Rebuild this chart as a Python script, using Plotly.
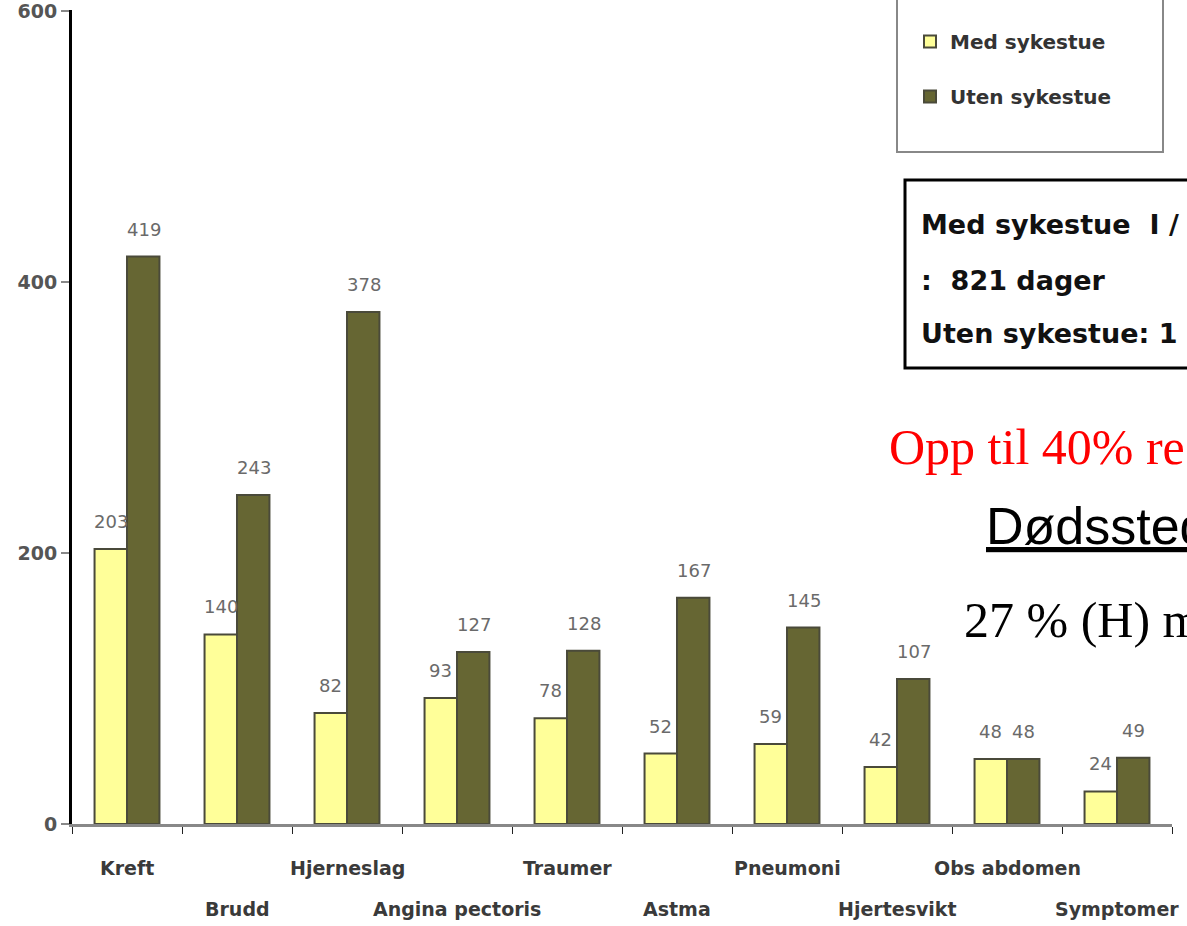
import plotly.graph_objects as go

# ---------------- data ----------------
categories = ["Kreft", "Brudd", "Hjerneslag", "Angina pectoris", "Traumer",
              "Astma", "Pneumoni", "Hjertesvikt", "Obs abdomen", "Symptomer"]
med_sykestue = [203, 140, 82, 93, 78, 52, 59, 42, 48, 24]
uten_sykestue = [419, 243, 378, 127, 128, 167, 145, 107, 48, 49]
series_names = ["Med sykestue", "Uten sykestue"]
y_ticks = [0, 200, 400, 600]
box_lines = ["Med sykestue  I /", ":  821 dager", "Uten sykestue: 1"]
red_text = "Opp til 40% re"
place_title = "Dødssted"
place_text = "27 % (H) m"

# ---------------- styles ----------------
colors = ["#FFFF99", "#666633"]
W, H = 1187, 926
ML, MR, MT, MB = 72, 15, 10, 102
PW, PH = W - ML - MR, H - MT - MB


def px_x(x):
    return (x - ML) / PW


def px_y(y):
    return (H - MB - y) / PH


fig = go.Figure()
for name, vals, col in zip(series_names, [med_sykestue, uten_sykestue], colors):
    fig.add_trace(go.Bar(
        x=categories, y=vals, name=name, legendgroup=name,
        marker=dict(color=col, line=dict(color="#4a4a3a", width=2)),
    ))

annotations = []
# value labels
for vals, shift in [(med_sykestue, -16.5), (uten_sykestue, 16.5)]:
    for c, v in zip(categories, vals):
        annotations.append(dict(
            x=c, y=v, xref="x", yref="y", text=str(v), showarrow=False,
            xshift=shift, yshift=15, yanchor="bottom",
            font=dict(family="DejaVu Sans", size=18, color="#6a6a6a")))

# staggered category labels
for i, c in enumerate(categories):
    annotations.append(dict(
        x=c, y=0, xref="x", yref="paper", text="<b>" + c + "</b>", showarrow=False,
        yanchor="middle", yshift=-44 if i % 2 == 0 else -85,
        font=dict(family="DejaVu Sans", size=19, color="#3a3a3a"),
        ))

# text box lines
for line, ypix in zip(box_lines, [224, 281, 333]):
    annotations.append(dict(
        x=px_x(919), y=px_y(ypix), xref="paper", yref="paper",
        text="<b>" + line + "</b>",
        showarrow=False, xanchor="left", yanchor="middle",
        font=dict(family="DejaVu Sans", size=27, color="#111111")))

annotations.append(dict(
    x=px_x(887), y=px_y(447), xref="paper", yref="paper", text=red_text,
    showarrow=False, xanchor="left", yanchor="middle",
    font=dict(family="Liberation Serif", size=50, color="#FF0000")))
annotations.append(dict(
    x=px_x(984), y=px_y(526), xref="paper", yref="paper",
    text="<u>" + place_title + "</u>",
    showarrow=False, xanchor="left", yanchor="middle",
    font=dict(family="Liberation Sans", size=52, color="#000000")))
annotations.append(dict(
    x=px_x(962), y=px_y(620), xref="paper", yref="paper", text=place_text,
    showarrow=False, xanchor="left", yanchor="middle",
    font=dict(family="Liberation Serif", size=50, color="#000000")))

shapes = [
    # legend frame
    dict(type="rect", xref="paper", yref="paper",
         x0=px_x(897), x1=px_x(1163), y0=px_y(152), y1=px_y(-5),
         line=dict(color="#888888", width=2), fillcolor="rgba(0,0,0,0)"),
    # text box frame
    dict(type="rect", xref="paper", yref="paper",
         x0=px_x(905), x1=px_x(1200), y0=px_y(368), y1=px_y(180),
         line=dict(color="#000000", width=3), fillcolor="rgba(0,0,0,0)"),
]

fig.update_layout(
    width=W, height=H,
    margin=dict(l=ML, r=MR, t=MT, b=MB, autoexpand=False),
    paper_bgcolor="white", plot_bgcolor="white",
    barmode="group", bargap=0.41, bargroupgap=0,
    showlegend=True,
    legend=dict(x=px_x(910), y=px_y(22), xanchor="left", yanchor="top",
                bgcolor="rgba(0,0,0,0)", borderwidth=0,
                tracegroupgap=26, traceorder="grouped",
                font=dict(family="DejaVu Sans", size=20, color="#333333",
                          weight="bold")),
    xaxis=dict(type="category", range=[-0.5, len(categories) - 0.5],
               showticklabels=False, showgrid=False, zeroline=False,
               showline=True, linecolor="#888888", linewidth=3,
               ticks="outside", tickson="boundaries", ticklen=7,
               tickcolor="#222222", tickwidth=1, automargin=False),
    yaxis=dict(range=[0, 601], tickvals=y_ticks, showgrid=False, zeroline=False,
               showline=True, linecolor="#000000", linewidth=3,
               ticks="outside", ticklen=8, tickcolor="#888888", tickwidth=2,
               automargin=False,
               tickfont=dict(family="DejaVu Sans", size=19, color="#555555",
                             weight="bold")),
    annotations=annotations,
    shapes=shapes,
)

fig.write_html("out.html")
